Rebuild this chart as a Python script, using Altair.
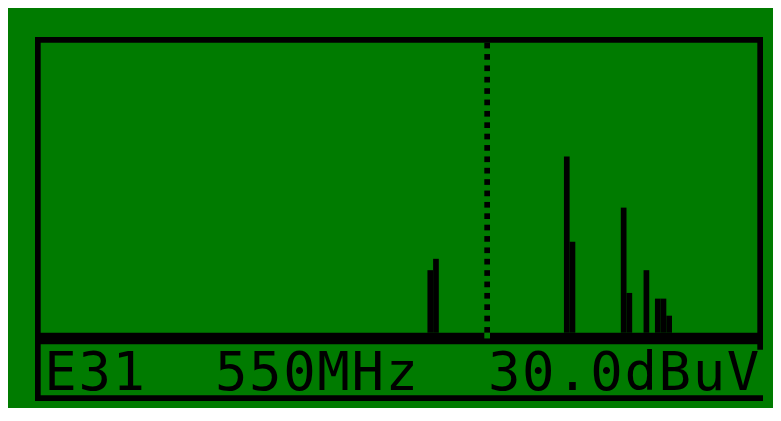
import altair as alt
import pandas as pd

# ---- data (LCD 128x64 spectrum analyser screen) ----
bar_cols = [69, 70, 93, 94, 103, 104, 107, 109, 110, 111]      # spectrum columns
bar_levels = [11, 13, 31, 16, 22, 7, 11, 6, 6, 3]               # level in LCD pixels
marker_col = 79                                                 # marker (550 MHz)
status_text = "E31  550MHz  30.0dBuV"

LCD_W, LCD_H = 128, 64
BASE_ROW = 52
LCD_GREEN = "#007b00"

xs = alt.Scale(domain=[0, LCD_W], nice=False, zero=False)
ys = alt.Scale(domain=[0, LCD_H], reverse=True, nice=False, zero=False)


def rects(df, color):
    return alt.Chart(df).mark_rect(color=color, strokeWidth=0).encode(
        x=alt.X("x0:Q", scale=xs, axis=None),
        x2="x1:Q",
        y=alt.Y("y0:Q", scale=ys, axis=None),
        y2="y1:Q",
    )


# frame + baseline (LCD cells)
frame_df = pd.DataFrame(
    [
        dict(x0=0, x1=LCD_W, y0=0, y1=1),
        dict(x0=0, x1=1, y0=0, y1=LCD_H),
        dict(x0=0, x1=LCD_W, y0=LCD_H - 1, y1=LCD_H),
        dict(x0=LCD_W - 1, x1=LCD_W, y0=0, y1=55),
        dict(x0=0, x1=LCD_W, y0=BASE_ROW, y1=BASE_ROW + 2),
    ]
)

bars_df = pd.DataFrame({"col": bar_cols, "level": bar_levels})
bars_df["x0"] = bars_df["col"]
bars_df["x1"] = bars_df["col"] + 1
bars_df["y0"] = BASE_ROW - bars_df["level"]
bars_df["y1"] = BASE_ROW

dot_rows = list(range(1, BASE_ROW, 2))
marker_df = pd.DataFrame(
    {"x0": marker_col, "x1": marker_col + 1, "y0": dot_rows, "y1": [r + 1 for r in dot_rows]}
)
marker_gap_df = pd.DataFrame([dict(x0=marker_col, x1=marker_col + 1, y0=BASE_ROW, y1=BASE_ROW + 1)])

chars = [
    {"ch": c, "cx": 2 + 6 * i + 2.5, "cy": 62}
    for i, c in enumerate(status_text)
    if c != " "
]
text_df = pd.DataFrame(chars)

text = alt.Chart(text_df).mark_text(
    font="DejaVu Sans Mono",
    fontSize=54,
    align="center",
    baseline="alphabetic",
    color="black",
).encode(
    x=alt.X("cx:Q", scale=xs, axis=None),
    y=alt.Y("cy:Q", scale=ys, axis=None),
    text="ch:N",
)

chart = (
    alt.layer(
        rects(frame_df, "black"),
        rects(bars_df, "black"),
        rects(marker_df, "black"),
        rects(marker_gap_df, LCD_GREEN),
        text,
    )
    .properties(
        width=728,
        height=364,
        padding={"left": 27, "top": 29, "right": 10, "bottom": 7},
        autosize=alt.AutoSizeParams(type="none"),
        background=LCD_GREEN,
    )
    .configure_view(strokeWidth=0)
)

chart.save("out.html", embed_options={"renderer": "svg", "actions": False})
